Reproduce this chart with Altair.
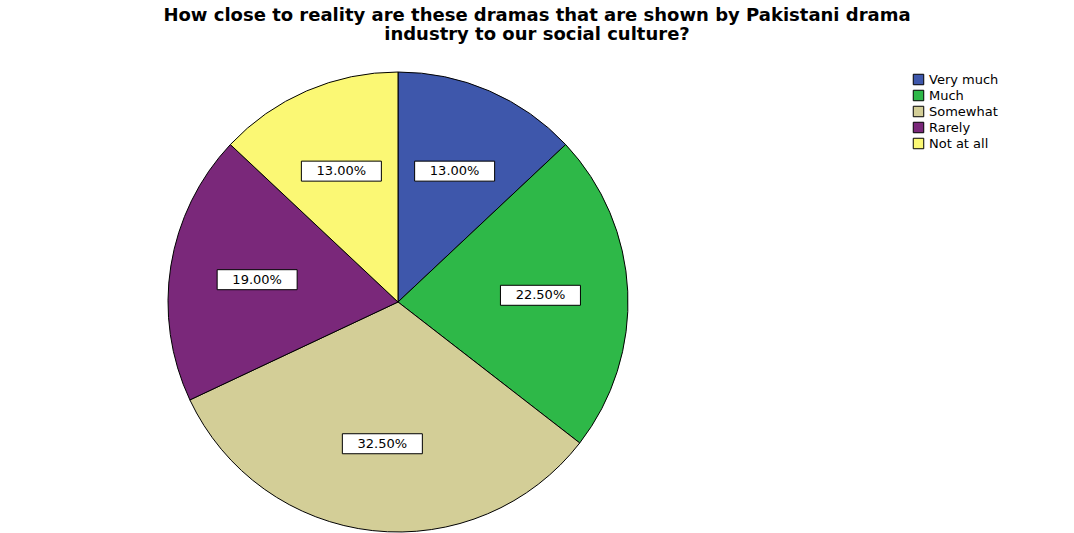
import altair as alt
import pandas as pd

categories = ["Very much", "Much", "Somewhat", "Rarely", "Not at all"]
values = [13.0, 22.5, 32.5, 19.0, 13.0]
labels = ["13.00%", "22.50%", "32.50%", "19.00%", "13.00%"]
colors = ["#3E57AB", "#2EB848", "#D3CE97", "#7A287A", "#FBF874"]

df = pd.DataFrame({"cat": categories, "value": values, "label": labels,
                   "order": list(range(len(categories)))})

CX, CY, R = 398, 250, 230
LR = 0.62 * R

base = alt.Chart(df)

color = alt.Color("cat:N", sort=categories,
                  scale=alt.Scale(domain=categories, range=colors),
                  legend=alt.Legend(title=None, orient="none", legendX=912, legendY=21,
                                    symbolType="square", symbolSize=110,
                                    symbolStrokeColor="black", symbolStrokeWidth=1,
                                    labelFont="DejaVu Sans", labelFontSize=13,
                                    labelColor="black", rowPadding=1, labelOffset=4))

pie = base.mark_arc(stroke="black", strokeWidth=1, radius=R).encode(
    theta=alt.Theta("value:Q", stack=True),
    color=color,
    order=alt.Order("order:Q"),
    x=alt.value(CX), y=alt.value(CY),
)

lab = base.transform_window(
    cum="sum(value)", sort=[alt.SortField("order")], frame=[None, 0]
).transform_joinaggregate(total="sum(value)").transform_calculate(
    mid="(datum.cum - datum.value/2) / datum.total * 2 * PI"
).transform_calculate(
    lx=f"{CX} + {LR} * sin(datum.mid)",
    ly=f"{CY} - {LR} * cos(datum.mid)",
).transform_calculate(
    x1="datum.lx - 40", x2="datum.lx + 40", y1="datum.ly - 10", y2="datum.ly + 10"
)

box = lab.mark_rect(fill="white", stroke="black", strokeWidth=1).encode(
    x=alt.X("x1:Q", scale=None), x2="x2:Q",
    y=alt.Y("y1:Q", scale=None), y2="y2:Q",
)

txt = lab.mark_text(font="DejaVu Sans", fontSize=13, color="black",
                    align="center", baseline="middle").encode(
    x=alt.X("lx:Q", scale=None), y=alt.Y("ly:Q", scale=None), text="label:N"
)

chart = alt.layer(pie, box, txt).properties(
    width=1074, height=481,
    autosize=alt.AutoSizeParams(type="none"),
    padding={"top": 52, "left": 0, "right": 0, "bottom": 0},
    title=alt.TitleParams(
        text=["How close to reality are these dramas that are shown by Pakistani drama",
              "industry to our social culture?"],
        font="DejaVu Sans", fontSize=18, fontWeight="bold", color="black",
        anchor="middle", frame="group", lineHeight=19, offset=8,
    ),
).configure(background="white").configure_view(stroke="transparent", strokeWidth=0)

chart.save("out.html", embed_options={"renderer": "svg", "actions": False})
